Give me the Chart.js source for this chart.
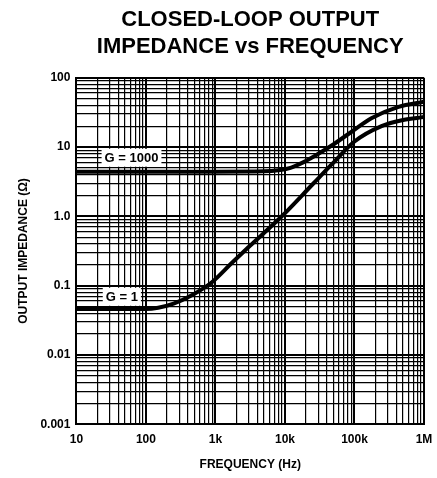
<!DOCTYPE html>
<html lang="en">
<head>
    <meta charset="UTF-8">
    <title>Closed-Loop Output Impedance vs Frequency</title>
    <script src="https://cdn.jsdelivr.net/npm/chart.js"></script>
    <style>
        body {
            margin: 0;
            background-color: #ffffff;
        }
        .chart-container {
            width: 437px;
            height: 478px;
        }
    </style>
</head>
<body>
    <div class="chart-container">
        <canvas id="impedanceChart"></canvas>
    </div>

    <script>
        // curve readings (Hz, ohms)
        const freqG1000 = [10, 100, 1000, 5000, 8000, 12000, 17000, 26000, 47000, 91000, 175000, 430000, 1000000];
        const impG1000 = [4.4, 4.4, 4.4, 4.45, 4.6, 5.0, 5.8, 7.3, 10.5, 16.6, 26, 38, 45];

        const freqG1 = [10, 100, 150, 250, 450, 870, 1700, 3000, 9000, 25000, 47000, 100000, 245000, 500000, 1000000];
        const impG1 = [0.046, 0.046, 0.048, 0.055, 0.072, 0.11, 0.21, 0.36, 1.0, 2.9, 5.6, 12.0, 20, 24.5, 27];

        const xTickValues = [10, 100, 1000, 10000, 100000, 1000000];
        const xTickLabels = ['10', '100', '1k', '10k', '100k', '1M'];
        const yTickValues = [0.001, 0.01, 0.1, 1, 10, 100];
        const yTickLabels = ['0.001', '0.01', '0.1', '1.0', '10', '100'];

        const curveLabels = ['G = 1000', 'G = 1'];

        const fontFamily = "'Liberation Sans', Arial, sans-serif";

        // grid lines at 1..9 of every decade
        function gridTicks(min, max) {
            const out = [];
            for (let d = min; d < max; d *= 10) {
                for (let m = 1; m < 10; m++) out.push({ value: d * m });
            }
            out.push({ value: max });
            return out;
        }

        function isDecade(v) {
            const l = Math.log10(v);
            return Math.abs(l - Math.round(l)) < 1e-6;
        }

        function toPoints(xs, ys) {
            return xs.map((x, i) => ({ x: x, y: ys[i] }));
        }

        // white boxed labels on the curves
        const curveLabelPlugin = {
            id: 'curveLabels',
            afterDatasetsDraw(chart) {
                const { ctx, scales } = chart;
                const spots = [
                    { text: curveLabels[0], x: 62, y: 7 },
                    { text: curveLabels[1], x: 45, y: 0.069 }
                ];
                ctx.save();
                ctx.font = 'bold 13px ' + fontFamily;
                ctx.textAlign = 'center';
                ctx.textBaseline = 'middle';
                spots.forEach(s => {
                    const px = scales.x.getPixelForValue(s.x);
                    const py = scales.y.getPixelForValue(s.y);
                    const w = ctx.measureText(s.text).width + 6;
                    ctx.fillStyle = '#ffffff';
                    ctx.fillRect(px - w / 2, py - 9, w, 18);
                    ctx.fillStyle = '#000000';
                    ctx.fillText(s.text, px, py + 1);
                });
                ctx.restore();
            }
        };

        const ctx = document.getElementById('impedanceChart').getContext('2d');
        const chart = new Chart(ctx, {
            type: 'line',
            data: {
                datasets: [
                    {
                        label: curveLabels[0],
                        data: toPoints(freqG1000, impG1000),
                        borderColor: '#000000',
                        borderWidth: 4,
                        pointRadius: 0,
                        cubicInterpolationMode: 'monotone'
                    },
                    {
                        label: curveLabels[1],
                        data: toPoints(freqG1, impG1),
                        borderColor: '#000000',
                        borderWidth: 4,
                        pointRadius: 0,
                        cubicInterpolationMode: 'monotone'
                    }
                ]
            },
            options: {
                responsive: true,
                maintainAspectRatio: false,
                animation: false,
                layout: {
                    padding: { left: 16, right: 13, top: 4, bottom: 6 }
                },
                plugins: {
                    legend: { display: false },
                    tooltip: { enabled: false },
                    title: {
                        display: true,
                        fullSize: false,
                        text: ['CLOSED-LOOP OUTPUT', 'IMPEDANCE vs FREQUENCY'],
                        color: '#000000',
                        font: { family: fontFamily, size: 22, weight: 'bold', lineHeight: 1.22 },
                        padding: { top: 3, bottom: 17 }
                    }
                },
                scales: {
                    x: {
                        type: 'logarithmic',
                        min: 10,
                        max: 1000000,
                        afterBuildTicks: (scale) => { scale.ticks = gridTicks(10, 1000000); },
                        afterFit: (scale) => { scale.paddingRight = 0; },
                        border: { display: true, color: '#000000', width: 2 },
                        grid: {
                            color: '#000000',
                            lineWidth: (c) => (c.tick && isDecade(c.tick.value)) ? 2 : 1.2,
                            drawTicks: false
                        },
                        ticks: {
                            autoSkip: false,
                            maxRotation: 0,
                            padding: 8,
                            color: '#000000',
                            font: { family: fontFamily, size: 12, weight: 'bold' },
                            callback: (value) => {
                                const i = xTickValues.findIndex(v => Math.abs(v - value) / v < 1e-6);
                                return i >= 0 ? xTickLabels[i] : '';
                            }
                        },
                        title: {
                            display: true,
                            text: 'FREQUENCY (Hz)',
                            color: '#000000',
                            font: { family: fontFamily, size: 12, weight: 'bold' },
                            padding: { top: 3, bottom: 0 }
                        }
                    },
                    y: {
                        type: 'logarithmic',
                        min: 0.001,
                        max: 100,
                        afterBuildTicks: (scale) => { scale.ticks = gridTicks(0.001, 100); },
                        border: { display: true, color: '#000000', width: 2 },
                        grid: {
                            color: '#000000',
                            lineWidth: (c) => (c.tick && isDecade(c.tick.value)) ? 2 : 1.2,
                            drawTicks: false
                        },
                        ticks: {
                            autoSkip: false,
                            padding: 6,
                            color: '#000000',
                            font: { family: fontFamily, size: 12, weight: 'bold' },
                            callback: (value) => {
                                const i = yTickValues.findIndex(v => Math.abs(v - value) / v < 1e-6);
                                return i >= 0 ? yTickLabels[i] : '';
                            }
                        },
                        title: {
                            display: true,
                            text: 'OUTPUT IMPEDANCE (Ω)',
                            color: '#000000',
                            font: { family: fontFamily, size: 12, weight: 'bold' },
                            padding: { top: 0, bottom: 4 }
                        }
                    }
                }
            },
            plugins: [curveLabelPlugin]
        });
    </script>
</body>
</html>
